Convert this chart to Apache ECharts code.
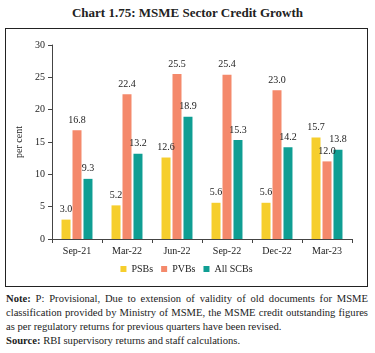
<!DOCTYPE html>
<html lang="en">
<head>
  <meta charset="UTF-8">
  <title>MSME Sector Credit Growth</title>
  <style>
    body { margin: 0; width: 375px; height: 353px; background: #fff; position: relative; font-family: "Liberation Serif", serif; color: #222; }
    #title { position: absolute; left: 0; top: 5px; width: 375px; text-align: center; font-weight: bold; font-size: 13px; }
    #box { position: absolute; left: 5px; top: 28px; width: 361px; height: 257px; border: 1.3px solid #222; }
    #chart { width: 361px; height: 257px; }
    #notes { position: absolute; left: 6px; top: 292px; width: 362px; font-size: 10.6px; line-height: 14px; }
    #notes .j { display: block; white-space: nowrap; text-align: justify; text-align-last: justify; }
  </style>
</head>
<body>
  <div id="title">Chart 1.75: MSME Sector Credit Growth</div>
  <div id="box"><div id="chart"></div></div>
  <div id="notes">
    <span class="j"><b>Note:</b> P: Provisional, Due to extension of validity of old documents for MSME</span>
    <span class="j">classification provided by Ministry of MSME, the MSME credit outstanding figures</span>
    <span>as per regulatory returns for previous quarters have been revised.</span><br>
    <b>Source:</b> RBI supervisory returns and staff calculations.
  </div>
  <script src="https://cdn.jsdelivr.net/npm/echarts@6/dist/echarts.min.js"></script>
  <script>
    const quarters = ["Sep-21", "Mar-22", "Jun-22", "Sep-22", "Dec-22", "Mar-23"];
    const psbs = [3.0, 5.2, 12.6, 5.6, 5.6, 15.7];
    const pvbs = [16.8, 22.4, 25.5, 25.4, 23.0, 12.0];
    const allScbs = [9.3, 13.2, 18.9, 15.3, 14.2, 13.8];

    const font = "Liberation Serif";
    const mkSeries = (name, data, color) => ({
      name: name,
      type: "bar",
      data: data,
      barWidth: 9,
      barGap: "22%",
      itemStyle: { color: color },
      label: {
        show: true,
        position: "top",
        distance: 5,
        fontFamily: font,
        fontSize: 10,
        color: "#222",
        formatter: (d) => d.value.toFixed(1)
      }
    });

    const chart = echarts.init(document.getElementById("chart"), null, { renderer: "canvas" });
    chart.setOption({
      animation: false,
      textStyle: { fontFamily: font },
      grid: { left: 46, right: 15, top: 16, bottom: 47 },
      legend: {
        bottom: 7,
        left: "center",
        itemWidth: 6,
        itemHeight: 6,
        itemGap: 8,
        icon: "rect",
        textStyle: { fontFamily: font, fontSize: 10, color: "#222" },
        data: ["PSBs", "PVBs", "All SCBs"]
      },
      xAxis: {
        type: "category",
        data: quarters,
        axisLine: { lineStyle: { color: "#444", width: 1 } },
        axisTick: { show: true, length: 4, lineStyle: { color: "#444" } },
        axisLabel: { fontFamily: font, fontSize: 10, color: "#222", margin: 7 }
      },
      yAxis: {
        type: "value",
        min: 0,
        max: 30,
        interval: 5,
        name: "per cent",
        nameLocation: "middle",
        nameGap: 26,
        nameTextStyle: { fontFamily: font, fontSize: 10, color: "#222" },
        splitLine: { show: false },
        axisLine: { show: true, lineStyle: { color: "#444", width: 1 } },
        axisTick: { show: true, length: 4, lineStyle: { color: "#444" } },
        axisLabel: { fontFamily: font, fontSize: 10, color: "#222", margin: 7 }
      },
      series: [
        mkSeries("PSBs", psbs, "#F6CE2D"),
        mkSeries("PVBs", pvbs, "#F4896B"),
        mkSeries("All SCBs", allScbs, "#0F9E93")
      ]
    });
  </script>
</body>
</html>
